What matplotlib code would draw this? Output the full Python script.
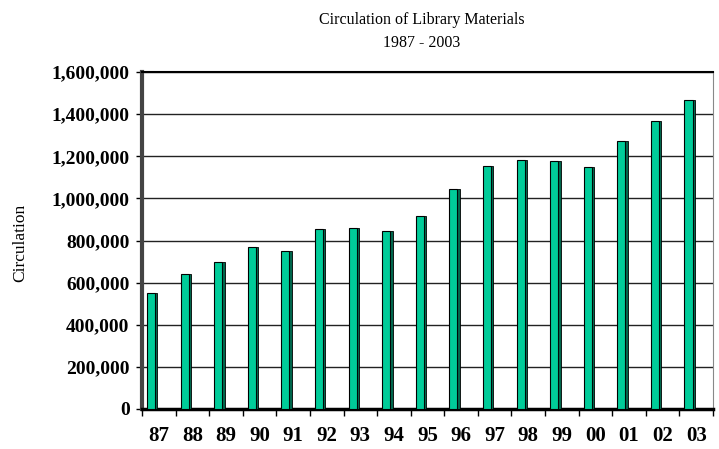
import matplotlib
matplotlib.use('Agg')
import matplotlib.pyplot as plt
import numpy as np

years = ['87', '88', '89', '90', '91', '92', '93', '94', '95',
         '96', '97', '98', '99', '00', '01', '02', '03']
circulation = [549000, 639000, 700000, 767000, 748000, 857000, 861000, 847000, 918000,
               1046000, 1155000, 1183000, 1179000, 1150000, 1273000, 1368000, 1468000]

plt.rcParams['font.family'] = ['Liberation Serif', 'DejaVu Serif']

fig = plt.figure(figsize=(7.19, 4.49), dpi=100)
ax = fig.add_axes([0.1975, 0.0891, 0.7942, 0.7505])

x = np.arange(len(years))
front_w = 0.24
side_w = 0.07
off = -0.23

# front face
ax.bar(x + off, circulation, width=front_w, color='#00cc99',
       edgecolor='black', linewidth=0.8, zorder=3)
# darker side face for the 3d look
ax.bar(x + off + front_w / 2 + side_w / 2, circulation, width=side_w,
       color='#00664c', edgecolor='black', linewidth=0.6, zorder=3)

ax.set_xlim(-0.5, len(years) - 0.5)
ax.set_ylim(0, 1600000)

ax.set_yticks(np.arange(0, 1600001, 200000))
ax.set_yticklabels(['{:,}'.format(v) for v in range(0, 1600001, 200000)],
                   fontsize=14, fontweight='bold')
ax.yaxis.grid(True, color='#222222', linewidth=1.0, zorder=0)

ax.set_xticks(np.arange(len(years) + 1) - 0.5)
ax.set_xticklabels([])
ax.set_xticks(x, minor=True)
ax.set_xticklabels(years, minor=True, fontsize=15, fontweight='bold')
ax.tick_params(axis='x', which='minor', length=0, pad=12)
ax.tick_params(axis='x', which='major', length=5, width=1, direction='out')
ax.tick_params(axis='y', length=4, width=1, direction='out', pad=5)

ax.spines['left'].set_linewidth(3)
ax.spines['left'].set_color('#444444')
ax.spines['bottom'].set_linewidth(2.5)
ax.spines['top'].set_linewidth(1.5)
ax.spines['right'].set_linewidth(0.8)
ax.spines['right'].set_color('#888888')

fig.text(0.586, 0.955, 'Circulation of Library Materials', ha='center', va='center', fontsize=11.5)
fig.text(0.586, 0.905, '1987 - 2003', ha='center', va='center', fontsize=11.5)
fig.text(0.028, 0.459, 'Circulation', rotation=90, ha='center', va='center', fontsize=12.5)

fig.savefig('out.png', dpi=100)
